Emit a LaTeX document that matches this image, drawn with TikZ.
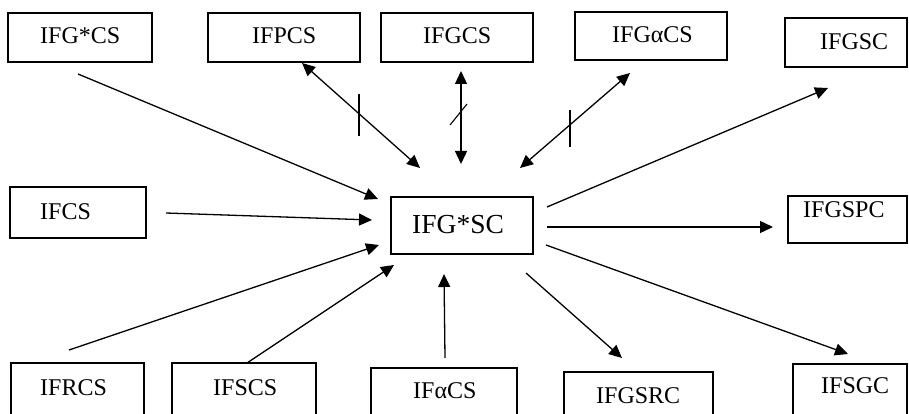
\documentclass[tikz,border=0pt]{standalone}
\usepackage{fontspec}
\setmainfont{Liberation Serif}
\usetikzlibrary{arrows.meta}
\begin{document}
\begin{tikzpicture}[x=1pt,y=-1pt,
  box/.style={draw, line width=1.3pt, inner sep=0pt, outer sep=0pt},
  lbl/.style={anchor=base west, inner sep=0pt, font=\fontsize{24}{28}\selectfont},
  biglbl/.style={anchor=base west, inner sep=0pt, font=\fontsize{27.5}{32}\selectfont},
  conn/.style={line width=1.3pt, -{Triangle[length=13pt,width=12pt]}},
  dconn/.style={line width=1.3pt, {Triangle[length=13pt,width=12pt]}-{Triangle[length=13pt,width=12pt]}},
  tick/.style={line width=1.1pt}]
\useasboundingbox (0,0) rectangle (909,414);
\fill[white] (0,0) rectangle (909,414);
\clip (0,0) rectangle (909,414);
% boxes
\node[box, minimum width=144pt, minimum height=49pt] (g1) at (80,37.5) {};
\node[box, minimum width=152pt, minimum height=49pt] (pcs) at (284,37.5) {};
\node[box, minimum width=152pt, minimum height=49pt] (gcs) at (457,37.5) {};
\node[box, minimum width=152pt, minimum height=48pt] (gacs) at (651,36) {};
\node[box, minimum width=122pt, minimum height=49pt] (gsc) at (846,42.5) {};
\node[box, minimum width=136pt, minimum height=51pt] (cs) at (78,212.5) {};
\node[box, minimum width=142pt, minimum height=57pt] (ctr) at (462,225.5) {};
\node[box, minimum width=119pt, minimum height=47pt] (gspc) at (847.5,219.5) {};
\node[box, minimum width=133pt, minimum height=57pt] (rcs) at (77.5,391.5) {};
\node[box, minimum width=144pt, minimum height=57pt] (scs) at (244,391.5) {};
\node[box, minimum width=146pt, minimum height=52pt] (acs) at (444,394) {};
\node[box, minimum width=149pt, minimum height=48pt] (gsrc) at (638.5,396) {};
\node[box, minimum width=114pt, minimum height=56pt] (sgc) at (850,392) {};
% labels
\node[lbl] (tg1) at (40,44) {IFG*CS};
\node[lbl] (tpcs) at (252,44) {IFPCS};
\node[lbl] (tgcs) at (423,44) {IFGCS};
\node[lbl] (tgacs) at (612,43) {IFGαCS};
\node[lbl] (tgsc) at (820,50) {IFGSC};
\node[lbl] (tcs) at (40,219) {IFCS};
\node[biglbl] (tctr) at (412,233) {IFG*SC};
\node[lbl] (tgspc) at (803,217) {IFGSPC};
\node[lbl] (trcs) at (40,395) {IFRCS};
\node[lbl] (tscs) at (213,395) {IFSCS};
\node[lbl] (tacs) at (413,398) {IFαCS};
\node[lbl] (tgsrc) at (596,403) {IFGSRC};
\node[lbl] (tsgc) at (821,393) {IFSGC};
% connector end points
\coordinate (a1) at (78,74);   \coordinate (b1) at (378,199);
\coordinate (a2) at (166,213); \coordinate (b2) at (372,220);
\coordinate (a3) at (69,350);  \coordinate (b3) at (379,245);
\coordinate (a4) at (247,363); \coordinate (b4) at (394,265);
\coordinate (a5) at (445,358); \coordinate (b5) at (444,274);
\coordinate (a6) at (547,207); \coordinate (b6) at (828,88);
\coordinate (a7) at (547,227); \coordinate (b7) at (773,227);
\coordinate (a8) at (546,245); \coordinate (b8) at (848,354);
\coordinate (a9) at (526,273); \coordinate (b9) at (622,358);
\coordinate (p1) at (302,63);  \coordinate (q1) at (420,168);
\coordinate (p2) at (461,71);  \coordinate (q2) at (461,164);
\coordinate (p3) at (630,73);  \coordinate (q3) at (520,168);
% connectors
\draw[conn] (a1) -- (b1);
\draw[conn] (a2) -- (b2);
\draw[conn] (a3) -- (b3);
\draw[conn] (a4) -- (b4);
\draw[conn] (a5) -- (b5);
\draw[conn] (a6) -- (b6);
\draw[conn] (a7) -- (b7);
\draw[conn] (a8) -- (b8);
\draw[conn] (a9) -- (b9);
\draw[dconn] (p1) -- (q1);
\draw[dconn] (p2) -- (q2);
\draw[dconn] (p3) -- (q3);
% negation ticks
\coordinate (t1a) at (359,94);  \coordinate (t1b) at (359,136);
\coordinate (t2a) at (450,125); \coordinate (t2b) at (467,104);
\coordinate (t3a) at (570,110); \coordinate (t3b) at (570,147);
\draw[tick] (t1a) -- (t1b);
\draw[tick] (t2a) -- (t2b);
\draw[tick] (t3a) -- (t3b);
\end{tikzpicture}
\end{document}
